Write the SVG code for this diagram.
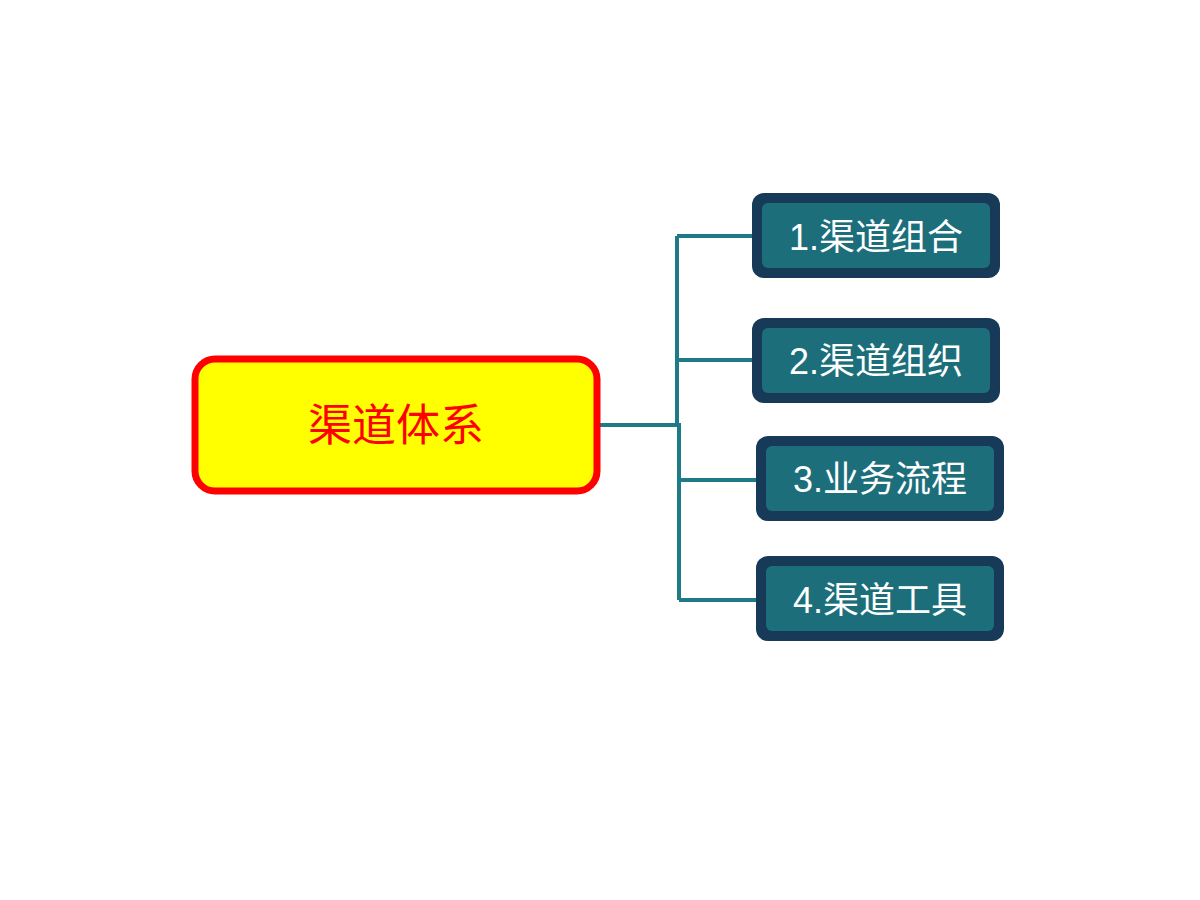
<svg xmlns="http://www.w3.org/2000/svg" width="1200" height="900" viewBox="0 0 1200 900">
<style>
.sub rect.o{fill:#173a58}
.sub rect.i{fill:#1c6e7b}
.sub text{fill:#ffffff;font-family:"Liberation Sans","Noto Sans CJK SC",sans-serif;font-size:36px;text-anchor:middle;dominant-baseline:central}
.conn path{stroke:#1e7a86;stroke-width:4;fill:none}
</style>
<rect width="1200" height="900" fill="#ffffff"/>
<g class="conn">
<path d="M598 425 H679 M677 236 V425 M679 423 V600 M677 236 H754 M677 360 H754 M679 480 H758 M679 600 H758"/>
</g>
<g id="root">
<rect x="195" y="359" width="402" height="132" rx="20" fill="#ffff00" stroke="#ff0000" stroke-width="7"/>
<text x="396" y="425" fill="#ff0000" font-family="'Liberation Sans','Noto Sans CJK SC',sans-serif" font-size="44" text-anchor="middle" dominant-baseline="central">渠道体系</text>
</g>
<g id="n1" class="sub"><rect class="o" x="752" y="193" width="248" height="85" rx="12"/><rect class="i" x="762" y="203" width="228" height="65" rx="6"/><text x="876" y="237">1.渠道组合</text></g>
<g id="n2" class="sub"><rect class="o" x="752" y="318" width="248" height="85" rx="12"/><rect class="i" x="762" y="328" width="228" height="65" rx="6"/><text x="876" y="361">2.渠道组织</text></g>
<g id="n3" class="sub"><rect class="o" x="756" y="436" width="248" height="85" rx="12"/><rect class="i" x="766" y="446" width="228" height="65" rx="6"/><text x="880" y="479">3.业务流程</text></g>
<g id="n4" class="sub"><rect class="o" x="756" y="556" width="248" height="85" rx="12"/><rect class="i" x="766" y="566" width="228" height="65" rx="6"/><text x="880" y="600">4.渠道工具</text></g>
</svg>
